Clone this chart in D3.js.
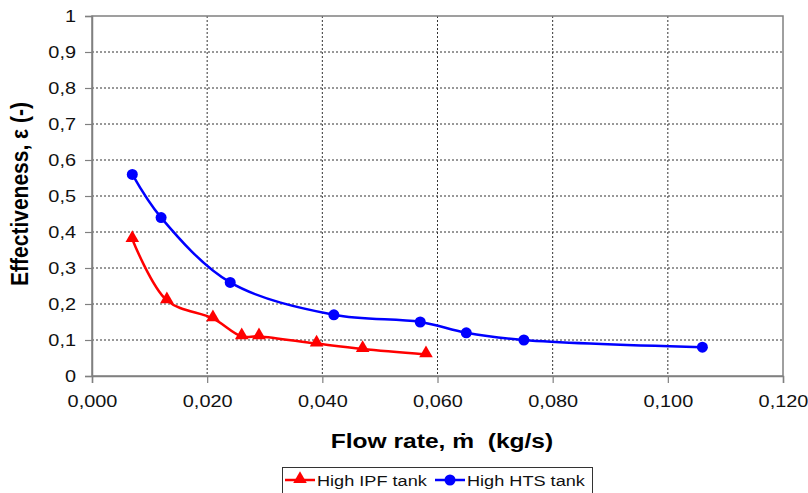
<!DOCTYPE html>
<html>
<head>
<meta charset="utf-8">
<script src="https://cdn.jsdelivr.net/npm/d3@7"></script>
<style>
  html, body { margin: 0; padding: 0; background: #fff; }
  svg { display: block; font-family: "Liberation Sans", Arial, sans-serif; }
</style>
</head>
<body>
<svg id="chart" width="808" height="493"></svg>
<script>
// Effectiveness vs. flow rate for the two tank configurations
const ipfFlow = [0.007, 0.013, 0.021, 0.026, 0.029, 0.039, 0.047, 0.058];
const ipfEff  = [0.38, 0.21, 0.16, 0.11, 0.11, 0.09, 0.075, 0.06];
const htsFlow = [0.007, 0.012, 0.024, 0.042, 0.057, 0.065, 0.075, 0.106];
const htsEff  = [0.56, 0.44, 0.26, 0.17, 0.15, 0.12, 0.10, 0.08];

const xTicks = [0, 0.02, 0.04, 0.06, 0.08, 0.10, 0.12];
const yTicks = [0, 0.1, 0.2, 0.3, 0.4, 0.5, 0.6, 0.7, 0.8, 0.9, 1];

const seriesNames = ["High IPF tank", "High HTS tank"];
const seriesColors = ["#ff0000", "#0000ff"];

const svg = d3.select("#chart");
const plotL = 92, plotR = 783, plotT = 16, plotB = 376;
const wide = 1.17; // horizontal text stretch

const x = d3.scaleLinear().domain([0, 0.12]).range([plotL, plotR]);
const y = d3.scaleLinear().domain([0, 1]).range([plotB, plotT]);

const commaFmt = (d, digits) => d.toFixed(digits).replace(".", ",");

// gridlines
const grid = svg.append("g");
grid.selectAll(".gy").data(yTicks.filter(d => d > 0 && d < 1)).join("line")
  .attr("x1", plotL).attr("x2", plotR)
  .attr("y1", d => y(d)).attr("y2", d => y(d))
  .attr("stroke", "#333").attr("stroke-width", 1).attr("stroke-dasharray", "2,2");
grid.selectAll(".gx").data(xTicks.filter(d => d > 0 && d < 0.12)).join("line")
  .attr("y1", plotT).attr("y2", plotB)
  .attr("x1", d => x(d)).attr("x2", d => x(d))
  .attr("stroke", "#333").attr("stroke-width", 1).attr("stroke-dasharray", "2,2");

// plot border
svg.append("rect")
  .attr("x", plotL).attr("y", plotT)
  .attr("width", plotR - plotL).attr("height", plotB - plotT)
  .attr("fill", "none").attr("stroke", "#808080").attr("stroke-width", 1.5);

// axes
const xAxis = d3.axisBottom(x).tickValues(xTicks).tickSize(7).tickPadding(12)
  .tickFormat(d => commaFmt(d, 3));
const yAxis = d3.axisLeft(y).tickValues(yTicks).tickSize(7).tickPadding(9)
  .tickFormat(d => (d === 0 || d === 1) ? String(d) : commaFmt(d, 1));

const gx = svg.append("g").attr("transform", `translate(0,${plotB})`).call(xAxis);
const gy = svg.append("g").attr("transform", `translate(${plotL},0)`).call(yAxis);
[gx, gy].forEach(g => {
  g.select(".domain").attr("stroke", "#808080").attr("stroke-width", 1.5);
  g.selectAll(".tick line").attr("stroke", "#808080").attr("stroke-width", 1.2);
  g.selectAll(".tick text").attr("fill", "#111").style("font-size", "17px")
    .style("font-family", "'Liberation Sans', Arial, sans-serif");
});
gx.selectAll(".tick text").attr("transform", `scale(${wide},1)`);
gy.selectAll(".tick text").each(function () {
  const t = d3.select(this);
  const tx = +t.attr("x");
  t.attr("x", 0).attr("transform", `translate(${tx},0) scale(${wide},1)`);
});

// axis titles
svg.append("text")
  .attr("transform", `translate(28,194) rotate(-90) scale(1,${wide})`)
  .attr("text-anchor", "middle")
  .style("font-size", "21px").style("font-weight", "bold")
  .text("Effectiveness, ε (-)");
svg.append("text")
  .attr("transform", `translate(442,448) scale(${wide},1)`)
  .attr("text-anchor", "middle")
  .style("font-size", "21px").style("font-weight", "bold")
  .style("white-space", "pre")
  .text("Flow rate, ṁ  (kg/s)");

// smoothed series lines
const line = d3.line().curve(d3.curveCatmullRom.alpha(0.5))
  .x(d => x(d[0])).y(d => y(d[1]));

const ipf = d3.zip(ipfFlow, ipfEff);
const hts = d3.zip(htsFlow, htsEff);

svg.append("path").datum(ipf).attr("d", line)
  .attr("fill", "none").attr("stroke", seriesColors[0]).attr("stroke-width", 2.5);
svg.append("path").datum(hts).attr("d", line)
  .attr("fill", "none").attr("stroke", seriesColors[1]).attr("stroke-width", 2.5);

const tri = d3.symbol().type(d3.symbolTriangle).size(80);
svg.selectAll(".ipf").data(ipf).join("path")
  .attr("transform", d => `translate(${x(d[0])},${y(d[1]) - 1})`)
  .attr("d", tri).attr("fill", seriesColors[0]);
svg.selectAll(".hts").data(hts).join("circle")
  .attr("cx", d => x(d[0])).attr("cy", d => y(d[1])).attr("r", 5.5)
  .attr("fill", seriesColors[1]);

// legend
const lg = svg.append("g");
lg.append("rect").attr("x", 282.5).attr("y", 467.5).attr("width", 310).attr("height", 30)
  .attr("fill", "#fff").attr("stroke", "#333").attr("stroke-width", 1);
const legendItems = [
  { name: seriesNames[0], color: seriesColors[0], x0: 285, mark: "tri" },
  { name: seriesNames[1], color: seriesColors[1], x0: 435, mark: "circle" }
];
legendItems.forEach(it => {
  const cy = 480;
  lg.append("line").attr("x1", it.x0).attr("x2", it.x0 + 30)
    .attr("y1", cy).attr("y2", cy).attr("stroke", it.color).attr("stroke-width", 2.5);
  if (it.mark === "tri") {
    lg.append("path").attr("transform", `translate(${it.x0 + 15},${cy - 1})`)
      .attr("d", tri).attr("fill", it.color);
  } else {
    lg.append("circle").attr("cx", it.x0 + 15).attr("cy", cy).attr("r", 5.5).attr("fill", it.color);
  }
  lg.append("text").attr("transform", `translate(${it.x0 + 32},${cy + 6}) scale(${wide},1)`)
    .style("font-size", "15.5px").attr("fill", "#111").text(it.name);
});
</script>
</body>
</html>
